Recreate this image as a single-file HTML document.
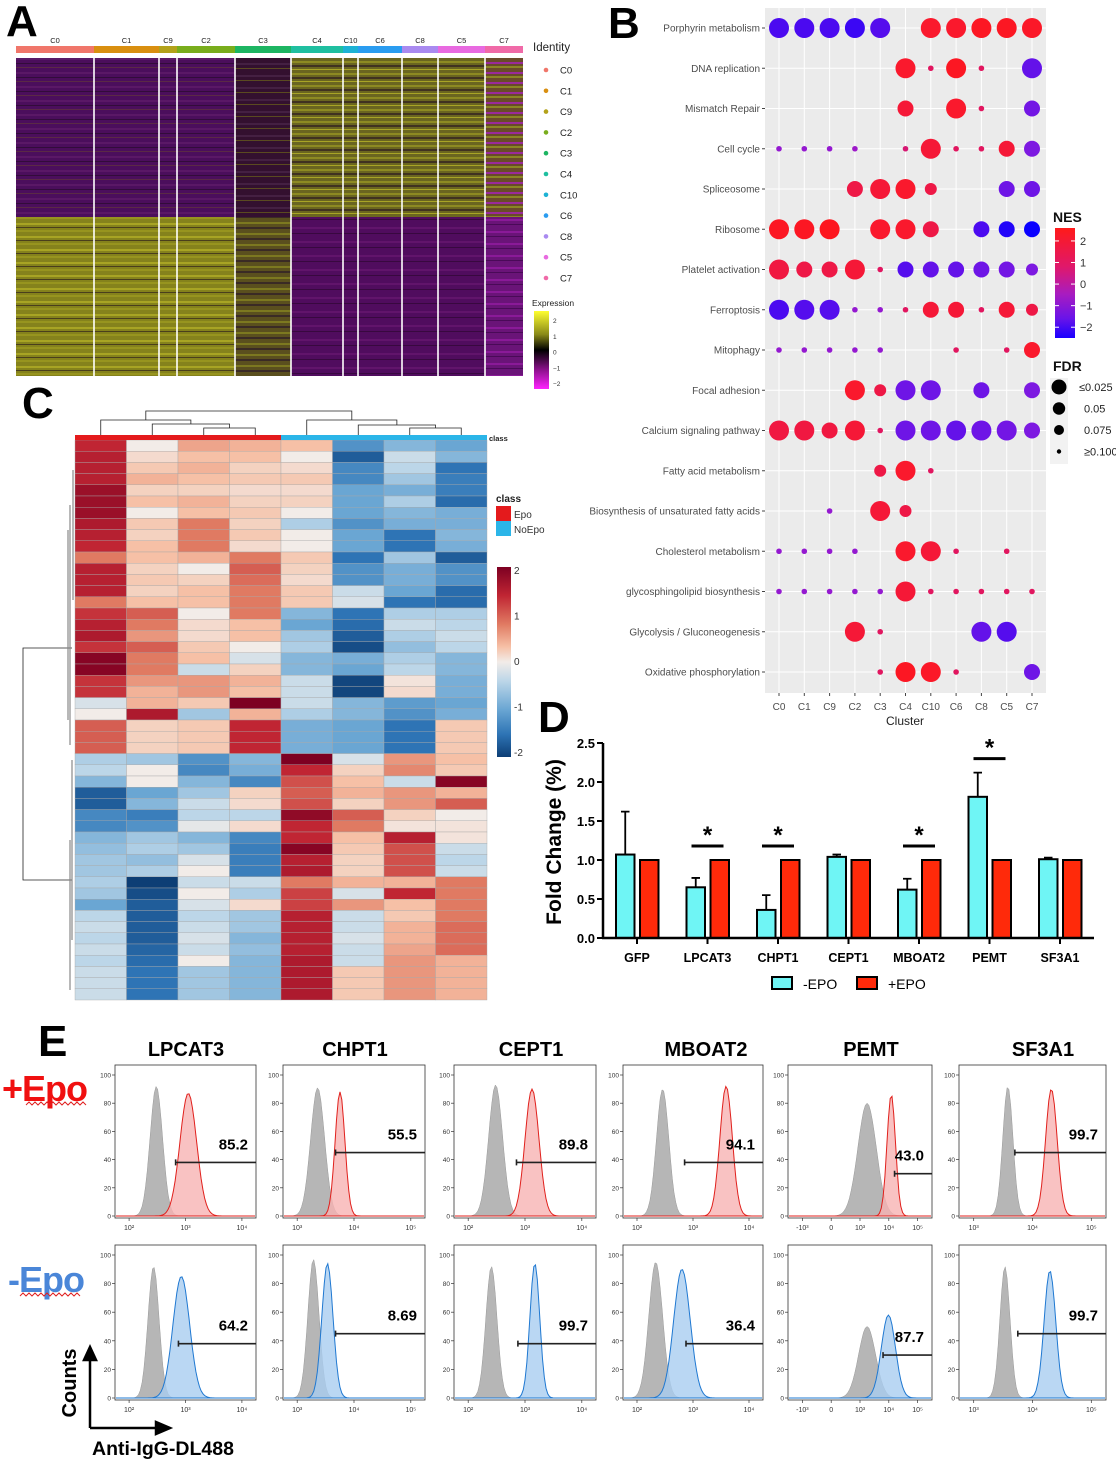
<!DOCTYPE html>
<html><head><meta charset="utf-8">
<style>
html,body{margin:0;padding:0;background:#fff;}
svg{display:block;font-family:"Liberation Sans",Arial,sans-serif;}
</style></head>
<body>
<svg id="fig" width="1116" height="1469" viewBox="0 0 1116 1469" xmlns="http://www.w3.org/2000/svg">
<defs>
 <pattern id="pTopL" width="10" height="14" patternUnits="userSpaceOnUse"><rect width="10" height="14" fill="#4b0e5c"/><rect y="2" width="10" height="2" fill="#5a1866"/><rect y="7" width="10" height="1" fill="#320c3a"/><rect y="11" width="10" height="1" fill="#5a2a45"/></pattern>
 <pattern id="pTopC3" width="10" height="12" patternUnits="userSpaceOnUse"><rect width="10" height="12" fill="#33102f"/><rect y="3" width="10" height="2" fill="#442042"/><rect y="8" width="10" height="1" fill="#5a4a20"/></pattern>
 <pattern id="pBotL" width="10" height="13" patternUnits="userSpaceOnUse"><rect width="10" height="13" fill="#85821c"/><rect y="2" width="10" height="2" fill="#a8a424"/><rect y="6" width="10" height="1" fill="#4a3f1c"/><rect y="9" width="10" height="2" fill="#97941f"/></pattern>
 <pattern id="pBotC3" width="10" height="11" patternUnits="userSpaceOnUse"><rect width="10" height="11" fill="#5a4f1e"/><rect y="2" width="10" height="2" fill="#7c7820"/><rect y="7" width="10" height="2" fill="#3a2a25"/></pattern>
 <pattern id="pTopR" width="10" height="12" patternUnits="userSpaceOnUse"><rect width="10" height="12" fill="#6a6520"/><rect y="1" width="10" height="2" fill="#8d8a22"/><rect y="5" width="10" height="2" fill="#403220"/><rect y="9" width="10" height="1" fill="#a8a426"/></pattern>
 <pattern id="pTopC7" width="10" height="10" patternUnits="userSpaceOnUse"><rect width="10" height="10" fill="#6a4a2a"/><rect y="2" width="10" height="2" fill="#9a2a9a"/><rect y="6" width="10" height="2" fill="#8a8524"/></pattern>
 <pattern id="pBotR" width="10" height="14" patternUnits="userSpaceOnUse"><rect width="10" height="14" fill="#500c5e"/><rect y="3" width="10" height="2" fill="#61146b"/><rect y="9" width="10" height="1" fill="#38083f"/></pattern>
 <pattern id="pBotC7" width="10" height="12" patternUnits="userSpaceOnUse"><rect width="10" height="12" fill="#6a1478"/><rect y="3" width="10" height="2" fill="#8a1a98"/><rect y="8" width="10" height="1" fill="#4a0a58"/></pattern>
 <linearGradient id="gExpr" x1="0" y1="0" x2="0" y2="1"><stop offset="0" stop-color="#ffff30"/><stop offset="0.3" stop-color="#8a8a18"/><stop offset="0.5" stop-color="#000"/><stop offset="0.75" stop-color="#8a108a"/><stop offset="1" stop-color="#ff22ff"/></linearGradient>
 <linearGradient id="gNES" x1="0" y1="0" x2="0" y2="1"><stop offset="0" stop-color="#ff1a1a"/><stop offset="0.35" stop-color="#e0186a"/><stop offset="0.6" stop-color="#a81cc0"/><stop offset="0.82" stop-color="#6a14e8"/><stop offset="1" stop-color="#1a00ff"/></linearGradient>
 <linearGradient id="gRdBu" x1="0" y1="0" x2="0" y2="1"><stop offset="0" stop-color="#7d0022"/><stop offset="0.15" stop-color="#c02533"/><stop offset="0.3" stop-color="#e07a62"/><stop offset="0.42" stop-color="#f6c0a6"/><stop offset="0.5" stop-color="#f2ece8"/><stop offset="0.6" stop-color="#bcd6e8"/><stop offset="0.75" stop-color="#6aa6d3"/><stop offset="0.88" stop-color="#2e74b5"/><stop offset="1" stop-color="#0d3e75"/></linearGradient>
</defs>
<g id="panelA"></g>
<g id="panelB"></g>
<g id="panelC"></g>
<g id="panelD"></g>
<g id="panelE"></g>
</svg>
<script>
// ---------- DATA ----------
const aClusters = ["C0","C1","C9","C2","C3","C4","C10","C6","C8","C5","C7"];
const aClusterColors = ["#f0766a","#d98f10","#b3a21a","#79ad1c","#1db562","#1fbfa0","#1db2d4","#2a9cf0","#a98af0","#e86ae0","#f06aa8"];
const aBounds = [16,94,159,177,235,291,343,358,402,438,485,523];
const aTopPat = ["pTopL","pTopL","pTopL","pTopL","pTopC3","pTopR","pTopR","pTopR","pTopR","pTopR","pTopC7"];
const aBotPat = ["pBotL","pBotL","pBotL","pBotL","pBotC3","pBotR","pBotR","pBotR","pBotR","pBotR","pBotC7"];
const exprTicks = ["2","1","0","\u22121","\u22122"];

const bPathways = ["Porphyrin metabolism","DNA replication","Mismatch Repair","Cell cycle","Spliceosome","Ribosome","Platelet activation","Ferroptosis","Mitophagy","Focal adhesion","Calcium signaling pathway","Fatty acid metabolism","Biosynthesis of unsaturated fatty acids","Cholesterol metabolism","glycosphingolipid biosynthesis","Glycolysis / Gluconeogenesis","Oxidative phosphorylation"];
const bClusters = ["C0","C1","C9","C2","C3","C4","C10","C6","C8","C5","C7"];
const n = null;
const bNES = [
 [-2,-2,-2,-2.2,-1.8,n,2,2,2.2,2.2,2.1],
 [n,n,n,n,n,2,1,2.2,1,n,-1.5],
 [n,n,n,n,n,1.8,n,2,1,n,-1.2],
 [-0.5,-0.5,-0.5,-0.3,n,0.8,1.8,1,1,1.8,-1],
 [n,n,n,1.5,1.8,2,1.5,n,n,-1.3,-1.3],
 [2.2,2.2,2.3,n,2,2,1.5,n,-2,-2.5,-2.9],
 [1.6,1.5,1.5,1.8,1,-1.8,-1.5,-1.5,-1.3,-1.2,-1],
 [-2,-1.8,-1.8,-0.5,-0.5,1,1.8,1.8,1,1.8,1.5],
 [-0.5,-0.5,-0.5,-0.5,-0.5,n,n,1,n,1,2],
 [n,n,n,2,1.5,-1.3,-1.3,n,-1.3,n,-1],
 [1.6,1.6,1.6,1.8,1,-1.3,-1.3,-1.5,-1.3,-1.2,-1],
 [n,n,n,n,1.5,2,1,n,n,n,n],
 [n,n,-0.5,n,1.8,1.5,n,n,n,n,n],
 [-0.5,-0.5,-0.5,-0.5,n,2,1.8,1,n,1,n],
 [-0.5,-0.5,-0.5,-0.5,-0.5,1.8,1,1,1,1,1],
 [n,n,n,1.8,1,n,n,n,-1.5,-1.8,n],
 [n,n,n,n,1,2.2,2.1,1,n,n,-1.3]];
const bFDR = [
 [4,4,4,4,4,0,4,4,4,4,4],
 [0,0,0,0,0,4,1,4,1,0,4],
 [0,0,0,0,0,3,0,4,1,0,3],
 [1,1,1,1,0,1,4,1,1,3,3],
 [0,0,0,3,4,4,2,0,0,3,3],
 [4,4,4,0,4,4,3,0,3,3,3],
 [4,3,3,4,1,3,3,3,3,3,2],
 [4,4,4,1,1,1,3,3,1,3,2],
 [1,1,1,1,1,0,0,1,0,1,3],
 [0,0,0,4,2,4,4,0,3,0,3],
 [4,4,3,4,1,4,4,4,4,4,3],
 [0,0,0,0,2,4,1,0,0,0,0],
 [0,0,1,0,4,2,0,0,0,0,0],
 [1,1,1,1,0,4,4,1,0,1,0],
 [1,1,1,1,1,4,1,1,1,1,1],
 [0,0,0,4,1,0,0,0,4,4,0],
 [0,0,0,0,1,4,4,1,0,0,3]];
const nesTicks = [2,1,0,-1,-2];
const fdrLabels = ["\u22640.025","0.05","0.075","\u22650.100"];

const cValues = [
 [1.6,0,0.7,0.6,0.5,-1.2,-0.8,-1.0],[1.7,0.2,0.5,0.5,0,-1.8,-0.3,-0.8],[1.7,0.4,0.6,0.3,0.2,-1.3,-0.4,-1.5],
 [1.7,0.6,0.5,0.4,0.4,-1.3,-0.6,-1.4],[2.0,0.3,0.3,0.2,0.2,-1.0,-0.9,-1.4],[2.0,0.5,0.6,0.3,0.3,-1.0,-0.5,-1.6],
 [2.0,0,0.5,0.4,0,-1.0,-0.8,-0.9],[1.8,0.4,1.0,0.3,-0.5,-1.2,-0.9,-0.9],[1.7,0.3,1.0,0.4,0,-1.0,-1.5,-0.8],
 [1.6,0.5,1.0,0.2,0,-1.0,-1.5,-0.9],[1.0,0.5,0.6,1.0,0.4,-1.5,-0.6,-1.8],[1.7,0.3,0,1.2,0.3,-1.2,-0.9,-1.2],
 [1.7,0.4,0.3,1.1,0.2,-1.2,-0.9,-1.2],[1.7,0.3,0.5,1.0,0.4,-0.3,-1.0,-1.6],[1.0,0.5,0.5,1.0,0.4,-0.2,-1.5,-1.6],
 [1.5,1.2,0,1.0,-0.8,-1.5,-0.5,-0.5],[1.7,1.0,0.2,0.5,-1.0,-1.6,-0.3,-0.4],[1.8,0.8,0.2,0.5,-0.6,-1.8,-0.5,-0.3],
 [1.5,1.2,0.4,0,-0.5,-2.0,-0.7,-0.4],[2.2,1.0,0.5,-0.2,-0.8,-0.9,-0.5,-0.8],[2.2,1.0,-0.3,0.3,-0.8,-1.0,-0.4,-0.8],
 [1.5,0.8,0.8,0.6,-0.3,-2.1,0.1,-0.9],[1.5,0.6,0.8,0.5,-0.3,-2.1,0.2,-0.9],[-0.2,0.6,0.4,2.3,-0.3,-0.8,-1.1,-1.0],
 [0,1.8,-0.6,0.6,-0.5,-0.8,-1.2,-0.9],[1.2,0.3,0.4,1.6,-0.9,-1.0,-1.5,0.4],[1.2,0.3,0.4,1.6,-0.9,-1.0,-1.5,0.4],
 [1.2,0.3,0.4,1.6,-0.9,-1.0,-1.5,0.4],[-0.5,-0.6,-1.2,-0.8,2.3,-0.2,0.8,0.5],[-0.4,0,-1.3,-0.9,1.6,0.3,0.9,0.4],
 [-0.8,0,-0.8,-1.3,1.3,0.5,-0.3,2.2],[-1.8,-1.0,-0.6,0.3,1.2,0.6,0.8,0.6],[-1.8,-0.8,-0.3,0.2,1.3,0.3,0.8,1.2],
 [-1.3,-1.4,-0.4,-0.4,2.1,1.2,0.3,0],[-1.3,-1.2,-0.1,0.2,1.6,1.0,0.1,0.1],[-0.8,-0.6,-0.8,-1.3,1.6,0.5,1.7,0.1],
 [-0.7,-0.5,-0.6,-1.4,2.2,0.4,1.3,-0.3],[-0.6,-0.7,-0.2,-1.4,1.7,0.3,1.3,-0.4],[-0.6,-0.5,0,-1.4,1.8,0.3,1.3,-0.3],
 [-0.5,-2.2,-0.3,-0.3,1.0,0.6,0.6,1.0],[-0.6,-2.0,0,-0.5,1.4,-0.2,1.6,1.0],[-1.0,-1.8,-0.2,0.2,1.4,0.8,0.5,1.0],
 [-0.4,-1.8,-0.4,-0.6,1.7,-0.3,0.4,1.0],[-0.3,-1.8,-0.3,-0.6,1.7,-0.3,0.6,1.1],[-0.4,-1.8,-0.2,-0.8,1.7,-0.2,0.6,1.1],
 [-0.3,-1.7,-0.3,-0.7,1.7,-0.3,0.7,1.1],[-0.4,-1.6,0,-0.8,1.8,-0.3,0.8,0.6],[-0.3,-1.5,-0.6,-0.8,1.8,0.4,0.8,0.6],
 [-0.3,-1.5,-0.6,-0.8,1.8,0.4,0.8,0.6],[-0.3,-1.5,-0.6,-0.8,1.8,0.4,0.8,0.6]];
const cClass = ["Epo","Epo","Epo","Epo","NoEpo","NoEpo","NoEpo","NoEpo"];
const cTicks = ["2","1","0","-1","-2"];

const dGenes = ["GFP","LPCAT3","CHPT1","CEPT1","MBOAT2","PEMT","SF3A1"];
const dMinus = [1.07,0.65,0.36,1.04,0.62,1.81,1.01];
const dMinusErr = [0.55,0.12,0.19,0.03,0.14,0.31,0.02];
const dPlus = [1,1,1,1,1,1,1];
const dSig = [false,true,true,false,true,true,false];
const dTicks = [0,0.5,1,1.5,2,2.5];

const eGenes = ["LPCAT3","CHPT1","CEPT1","MBOAT2","PEMT","SF3A1"];
const eGrayC = [[0.29,0.24,0.29,0.28,0.55,0.33],[0.27,0.21,0.26,0.23,0.55,0.31]];
const eGrayW = [[0.045,0.05,0.05,0.045,0.065,0.035],[0.04,0.04,0.04,0.05,0.06,0.035]];
const eGrayH = [[92,91,93,90,80,92],[92,97,92,95,50,92]];
const eColC = [[0.52,0.40,0.55,0.74,0.72,0.63],[0.47,0.31,0.57,0.42,0.70,0.62]];
const eColW = [[0.06,0.035,0.05,0.045,0.03,0.04],[0.06,0.04,0.035,0.06,0.05,0.04]];
const eColH = [[87,88,90,92,86,90],[85,94,94,90,58,89]];
const eGateX = [[0.43,0.37,0.44,0.44,0.74,0.38],[0.45,0.37,0.45,0.45,0.66,0.40]];
const eGateV = [[38,45,38,38,30,45],[38,45,38,38,30,45]];
const ePct = [["85.2","55.5","89.8","94.1","43.0","99.7"],["64.2","8.69","99.7","36.4","87.7","99.7"]];
const eTicksY = [0,20,40,60,80,100];

// ---------- HELPERS ----------
const NS="http://www.w3.org/2000/svg";
function mk(parent, tag, attrs, text){
  const e=document.createElementNS(NS,tag);
  for(const k in attrs) e.setAttribute(k,attrs[k]);
  if(text!==undefined) e.textContent=text;
  parent.appendChild(e); return e;
}
function lerpColor(stops, v){
  if(v<=stops[0][0]) return stops[0][1];
  for(let i=1;i<stops.length;i++){
    if(v<=stops[i][0]){
      const a=stops[i-1],b=stops[i],t=(v-a[0])/(b[0]-a[0]);
      const c=a[1].map((x,j)=>Math.round(x+(b[1][j]-x)*t));
      return "rgb("+c.join(",")+")";
    }
  }
  const l=stops[stops.length-1][1]; return "rgb("+l.join(",")+")";
}
function fixC(s){ return Array.isArray(s)?"rgb("+s.join(",")+")":s; }

// ---------- PANEL A ----------
(function(){
  const g=document.getElementById("panelA");
  const L=mk(g,"text",{x:6,y:36,"font-size":44,"font-weight":"bold"},"A");
   
  const top=58, mid=217, bot=376;
  aClusters.forEach((c,i)=>{
    const x0=aBounds[i], x1=aBounds[i+1];
    const bar=mk(g,"rect",{x:x0,y:46,width:x1-x0,height:7,fill:aClusterColors[i]});
     
    const t=mk(g,"text",{x:(x0+x1)/2,y:43,"font-size":7.5,"text-anchor":"middle",fill:"#222"},c);
     
    const r1=mk(g,"rect",{x:x0,y:top,width:x1-x0,height:mid-top,fill:"url(#"+aTopPat[i]+")"});
     
    const r2=mk(g,"rect",{x:x0,y:mid,width:x1-x0,height:bot-mid,fill:"url(#"+aBotPat[i]+")"});
     
  });
  for(let i=1;i<aBounds.length-1;i++){
    mk(g,"line",{x1:aBounds[i],y1:top,x2:aBounds[i],y2:bot,stroke:"#fff","stroke-width":1.6});
  }
  const it=mk(g,"text",{x:533,y:51,"font-size":11.5,fill:"#222"},"Identity");
   
  aClusters.forEach((c,i)=>{
    const y=70+i*20.8;
    const d=mk(g,"circle",{cx:546,cy:y,r:2.3,fill:aClusterColors[i]});
     
    const t=mk(g,"text",{x:560,y:y+3.5,"font-size":9.5,fill:"#222"},c);
     
  });
  const et=mk(g,"text",{x:532,y:306,"font-size":8.5,fill:"#222"},"Expression");
   
  const cb=mk(g,"rect",{x:534,y:311,width:15,height:78,fill:"url(#gExpr)"});
   
  exprTicks.forEach((t,i)=>{
    const y=320+i*15.8;
    const e=mk(g,"text",{x:553,y:y+3,"font-size":6.5,fill:"#333"},t);
     
  });
})();

// ---------- PANEL B ----------
(function(){
  const g=document.getElementById("panelB");
  const L=mk(g,"text",{x:608,y:38,"font-size":44,"font-weight":"bold"},"B");
   
  const px0=765, px1=1046, py0=8, py1=693;
  const bg=mk(g,"rect",{x:px0,y:py0,width:px1-px0,height:py1-py0,fill:"#ebebeb"});
   
  const xS=i=>779+i*25.3, yS=j=>28+j*40.25;
  bClusters.forEach((c,i)=>{
    mk(g,"line",{x1:xS(i),y1:py0,x2:xS(i),y2:py1,stroke:"#fff","stroke-width":1});
    mk(g,"line",{x1:xS(i),y1:py1,x2:xS(i),y2:py1+3,stroke:"#444","stroke-width":1});
    const t=mk(g,"text",{x:xS(i),y:710,"font-size":10,"text-anchor":"middle",fill:"#4d4d4d"},c);
     
  });
  bPathways.forEach((p,j)=>{
    mk(g,"line",{x1:px0,y1:yS(j),x2:px1,y2:yS(j),stroke:"#fff","stroke-width":1});
    mk(g,"line",{x1:px0-3,y1:yS(j),x2:px0,y2:yS(j),stroke:"#444","stroke-width":1});
    const t=mk(g,"text",{x:px0-5,y:yS(j)+3.5,"font-size":10,"text-anchor":"end",fill:"#4d4d4d"},p);
     
  });
  const xt=mk(g,"text",{x:905,y:725,"font-size":12,"text-anchor":"middle",fill:"#222"},"Cluster");
   
  const stops=[[-2.8,[10,0,255]],[-2,[75,10,240]],[-1,[125,25,225]],[0,[170,25,190]],[1,[225,22,95]],[2,[250,25,45]],[2.5,[255,20,20]]];
  const rad=[0,2.8,6,8,10];
  bNES.forEach((row,j)=>row.forEach((v,i)=>{
    const s=bFDR[j][i];
    if(v===null||!s) return;
    const d=mk(g,"circle",{cx:xS(i),cy:yS(j),r:rad[s],fill:fixC(lerpColor(stops,v))});
     
  }));
  const nt=mk(g,"text",{x:1053,y:222,"font-size":14,"font-weight":"bold",fill:"#111"},"NES");
   
  const cb=mk(g,"rect",{x:1055,y:228,width:20,height:110,fill:"url(#gNES)"});
   
  nesTicks.forEach(v=>{
    const y=338-(v+2.5)/5.1*110;
    mk(g,"line",{x1:1055,y1:y,x2:1059,y2:y,stroke:"#fff"});
    mk(g,"line",{x1:1071,y1:y,x2:1075,y2:y,stroke:"#fff"});
    const t=mk(g,"text",{x:1080,y:y+4,"font-size":11,fill:"#333"},v<0?"\u2212"+(-v):String(v));
     
  });
  const ft=mk(g,"text",{x:1053,y:371,"font-size":14,"font-weight":"bold",fill:"#111"},"FDR");
   
  mk(g,"rect",{x:1050,y:378,width:18,height:86,fill:"#f2f2f2"});
  fdrLabels.forEach((l,i)=>{
    const y=387+i*21.5;
    const c=mk(g,"circle",{cx:1059,cy:y,r:[7.5,6.2,5,2.2][i],fill:"#000"});
     
    const t=mk(g,"text",{x:i==0?1079:1084,y:y+4,"font-size":11,fill:"#222"},l);
     
  });
})();

// ---------- PANEL C ----------
(function(){
  const g=document.getElementById("panelC");
  const L=mk(g,"text",{x:22,y:418,"font-size":44,"font-weight":"bold"},"C");
   
  const x0=75,x1=487,y0=440,y1=1000;
  const cw=(x1-x0)/8, rh=(y1-y0)/cValues.length;
  const stops=[[-2.2,[13,62,117]],[-1.5,[46,116,181]],[-1,[106,166,211]],[-0.4,[188,214,232]],[0,[242,236,232]],[0.5,[246,192,166]],[1,[224,122,98]],[1.6,[192,37,51]],[2.3,[125,0,34]]];
  cValues.forEach((row,j)=>row.forEach((v,i)=>{
    const r=mk(g,"rect",{x:x0+i*cw,y:y0+j*rh,width:cw,height:rh,fill:fixC(lerpColor(stops,v)),stroke:"#a8a8a8","stroke-width":0.4});
     
  }));
  cClass.forEach((c,i)=>{
    const r=mk(g,"rect",{x:x0+i*cw,y:435,width:cw,height:5,fill:c==="Epo"?"#e41a1c":"#2bb5e8"});
     
  });
  const ct=mk(g,"text",{x:489,y:441,"font-size":7.5,"font-weight":"bold",fill:"#222"},"class");
   
  const cx=i=>x0+(i+0.5)*cw;
  const st={stroke:"#222","stroke-width":0.8,fill:"none"};
  const seg=(a,b,h,ya,yb)=>mk(g,"path",Object.assign({d:`M${a},${ya} V${h} H${b} V${yb}`},st));
  seg(cx(2),cx(3),428,435,435);
  seg(cx(1),(cx(2)+cx(3))/2,424,435,428);
  seg(cx(0),(cx(1)+(cx(2)+cx(3))/2)/2,420,435,424);
  seg(cx(6),cx(7),428,435,435);
  seg(cx(5),(cx(6)+cx(7))/2,425,435,428);
  seg(cx(4),(cx(5)+(cx(6)+cx(7))/2)/2,420,435,425);
  const lc=(cx(0)+(cx(1)+(cx(2)+cx(3))/2)/2)/2, rc=(cx(4)+(cx(5)+(cx(6)+cx(7))/2)/2)/2;
  seg(lc,rc,411,420,420);
  mk(g,"path",Object.assign({d:"M72,648 H23 V880 H72"},st));
  mk(g,"path",{d:"M70,505 V745 M68,530 V720 M72,760 V940 M70,840 V990 M73,470 V600",stroke:"#888","stroke-width":1.2,fill:"none"});
  const lt=mk(g,"text",{x:496,y:502,"font-size":10,"font-weight":"bold",fill:"#222"},"class");
   
  [["Epo","#e41a1c"],["NoEpo","#2bb5e8"]].forEach((e,i)=>{
    const r=mk(g,"rect",{x:496,y:506+i*15,width:15,height:15,fill:e[1]});
     
    const t=mk(g,"text",{x:514,y:518+i*15,"font-size":10,fill:"#333"},e[0]);
     
  });
  const cb=mk(g,"rect",{x:497,y:567,width:14,height:190,fill:"url(#gRdBu)"});
   
  cTicks.forEach((t,i)=>{
    const e=mk(g,"text",{x:514,y:574+i*45.5,"font-size":10,fill:"#333"},t);
     
  });
})();

// ---------- PANEL D ----------
(function(){
  const g=document.getElementById("panelD");
  const L=mk(g,"text",{x:538,y:732,"font-size":44,"font-weight":"bold"},"D");
   
  const ax=603, y0=938, y1=743, xEnd=1094;
  const yS=v=>y0-(v/2.5)*(y0-y1);
  const gx=i=>637+i*70.5;
  dTicks.forEach(v=>{
    mk(g,"line",{x1:ax-6,y1:yS(v),x2:ax,y2:yS(v),stroke:"#000","stroke-width":2});
    const t=mk(g,"text",{x:ax-8,y:yS(v)+5,"font-size":13,"font-weight":"bold","text-anchor":"end"},v.toFixed(1));
     
  });
  const yt=mk(g,"text",{x:0,y:0,"font-size":21,"font-weight":"bold","text-anchor":"middle",transform:"translate(561,842) rotate(-90)"},"Fold Change (%)");
   
  dGenes.forEach((gn,i)=>{
    const c=gx(i);
    const bm=mk(g,"rect",{x:c-21,y:yS(dMinus[i]),width:18.5,height:y0-yS(dMinus[i]),fill:"#6ff5f5",stroke:"#000","stroke-width":2});
     
    const eb=mk(g,"path",{d:`M${c-11.75},${yS(dMinus[i])} V${yS(dMinus[i]+dMinusErr[i])} M${c-16},${yS(dMinus[i]+dMinusErr[i])} H${c-7.5}`,stroke:"#000","stroke-width":1.8,fill:"none"});
     
    const bp=mk(g,"rect",{x:c+3,y:yS(dPlus[i]),width:18.5,height:y0-yS(dPlus[i]),fill:"#ff2a0a",stroke:"#000","stroke-width":2});
     
    mk(g,"line",{x1:c,y1:y0,x2:c,y2:y0+6,stroke:"#000","stroke-width":2});
    const t=mk(g,"text",{x:c,y:962,"font-size":12.5,"font-weight":"bold","text-anchor":"middle"},gn);
     
    if(dSig[i]){
      const top=Math.max(dMinus[i]+dMinusErr[i],dPlus[i]);
      const ly=yS(top)-14;
      const sl=mk(g,"line",{x1:c-16,y1:ly,x2:c+16,y2:ly,stroke:"#000","stroke-width":3});
       
      const s=mk(g,"text",{x:c,y:ly-3,"font-size":24,"font-weight":"bold","text-anchor":"middle"},"*");
       
    }
  });
  mk(g,"line",{x1:ax,y1:y1,x2:ax,y2:y0+1,stroke:"#000","stroke-width":2.5});
  mk(g,"line",{x1:ax-1,y1:y0,x2:xEnd,y2:y0,stroke:"#000","stroke-width":2.5});
  const l1=mk(g,"rect",{x:772,y:977,width:20,height:12,fill:"#6ff5f5",stroke:"#000","stroke-width":2});
   
  const lt1=mk(g,"text",{x:803,y:989,"font-size":14},"-EPO");
   
  const l2=mk(g,"rect",{x:857,y:977,width:20,height:12,fill:"#ff2a0a",stroke:"#000","stroke-width":2});
   
  const lt2=mk(g,"text",{x:888,y:989,"font-size":14},"+EPO");
   
})();

// ---------- PANEL E ----------
(function(){
  const g=document.getElementById("panelE");
  const L=mk(g,"text",{x:38,y:1056,"font-size":44,"font-weight":"bold"},"E");
   
  const bx=[[115,256],[283,425],[454,596],[623,763],[788,932],[959,1106]];
  const rows=[[1065,1218],[1245,1400]];
  const titleX=[186,355,531,706,871,1043];
  eGenes.forEach((gn,i)=>{
    const t=mk(g,"text",{x:titleX[i],y:1056,"font-size":20,"font-weight":"bold","text-anchor":"middle"},gn);
     
  });
  const xlab=[["10²","10³","10⁴"],["10³","10⁴","10⁵"],["10²","10³","10⁴"],["10²","10³","10⁴"],["-10³","0","10³","10⁴","10⁵"],["10³","10⁴","10⁵"]];
  rows.forEach((r,ri)=>{
    const [yt,yb]=r, h=yb-yt;
    const yV=v=>yb-2-(v/100)*(h-12);
    eGenes.forEach((gn,i)=>{
      const [x0,x1]=bx[i], w=x1-x0;
      const box=mk(g,"rect",{x:x0,y:yt,width:w,height:h,fill:"#fff",stroke:"#333","stroke-width":0.8});
       
      eTicksY.forEach(v=>{
        mk(g,"line",{x1:x0-3,y1:yV(v),x2:x0,y2:yV(v),stroke:"#333","stroke-width":0.7});
        const t=mk(g,"text",{x:x0-4,y:yV(v)+2.5,"font-size":6.5,"text-anchor":"end",fill:"#333"},String(v));
         
      });
      xlab[i].forEach((l,k)=>{
        const xx=x0+w*(0.1+k*(0.8/(xlab[i].length-1||1)));
        mk(g,"line",{x1:xx,y1:yb,x2:xx,y2:yb+3,stroke:"#333","stroke-width":0.7});
        const t=mk(g,"text",{x:xx,y:yb+12,"font-size":7,"text-anchor":"middle",fill:"#333"},l);
         
      });
      const curve=(c,wd,hh)=>{
        let d=`M${x0+1},${yV(0)}`;
        for(let k=0;k<=80;k++){
          const f=k/80, xx=x0+1+f*(w-2);
          const v=hh*Math.exp(-Math.pow((f-c)/wd,2)/2);
          d+=` L${xx.toFixed(1)},${yV(v).toFixed(1)}`;
        }
        return d+` L${x1-1},${yV(0)} Z`;
      };
      const gp=mk(g,"path",{d:curve(eGrayC[ri][i],eGrayW[ri][i],eGrayH[ri][i]),fill:"#a9a9a9","fill-opacity":0.85,stroke:"#999","stroke-width":0.5});
       
      const cp=mk(g,"path",{d:curve(eColC[ri][i],eColW[ri][i],eColH[ri][i]),fill:ri?"#a9cdf0":"#f7b3b3","fill-opacity":0.8,stroke:ri?"#1f78d1":"#e0201c","stroke-width":1});
       
      const gx0=x0+w*eGateX[ri][i], gy=yV(eGateV[ri][i]);
      const gl=mk(g,"path",{d:`M${gx0},${gy-3} V${gy+3} M${gx0},${gy} H${x1}`,stroke:"#222","stroke-width":1.6,fill:"none"});
       
      const pt=mk(g,"text",{x:x1-8,y:gy-13,"font-size":15,"font-weight":"bold","text-anchor":"end"},ePct[ri][i]);
       
    });
  });
  const pe=mk(g,"text",{x:2,y:1101,"font-size":36,"font-weight":"bold",fill:"#f01010","letter-spacing":"-1"},"+Epo");
   
  mk(g,"path",{d:"M26,1105 l3,-3 l3,3 l3,-3 l3,3 l3,-3 l3,3 l3,-3 l3,3 l3,-3 l3,3 l3,-3 l3,3 l3,-3 l3,3 l3,-3 l3,3 l3,-3 l3,3 l3,-3 l3,3",stroke:"#e02020","stroke-width":1,fill:"none"});
  const me=mk(g,"text",{x:8,y:1292,"font-size":36,"font-weight":"bold",fill:"#4a86d8","letter-spacing":"-1"},"-Epo");
   
  mk(g,"path",{d:"M20,1296 l3,-3 l3,3 l3,-3 l3,3 l3,-3 l3,3 l3,-3 l3,3 l3,-3 l3,3 l3,-3 l3,3 l3,-3 l3,3 l3,-3 l3,3 l3,-3 l3,3 l3,-3 l3,3",stroke:"#e02020","stroke-width":1,fill:"none"});
  mk(g,"path",{d:"M90,1428 V1352 M84,1360 L90,1347 L96,1360 Z M90,1428 H163 M156,1422 L170,1428 L156,1434 Z",stroke:"#000","stroke-width":2.5,fill:"#000"});
  const ct=mk(g,"text",{x:0,y:0,"font-size":20,"font-weight":"bold","text-anchor":"middle",transform:"translate(76,1383) rotate(-90)"},"Counts");
   
  const xt=mk(g,"text",{x:92,y:1455,"font-size":19.5,"font-weight":"bold"},"Anti-IgG-DL488");
   
})();
</script>
</body></html>
